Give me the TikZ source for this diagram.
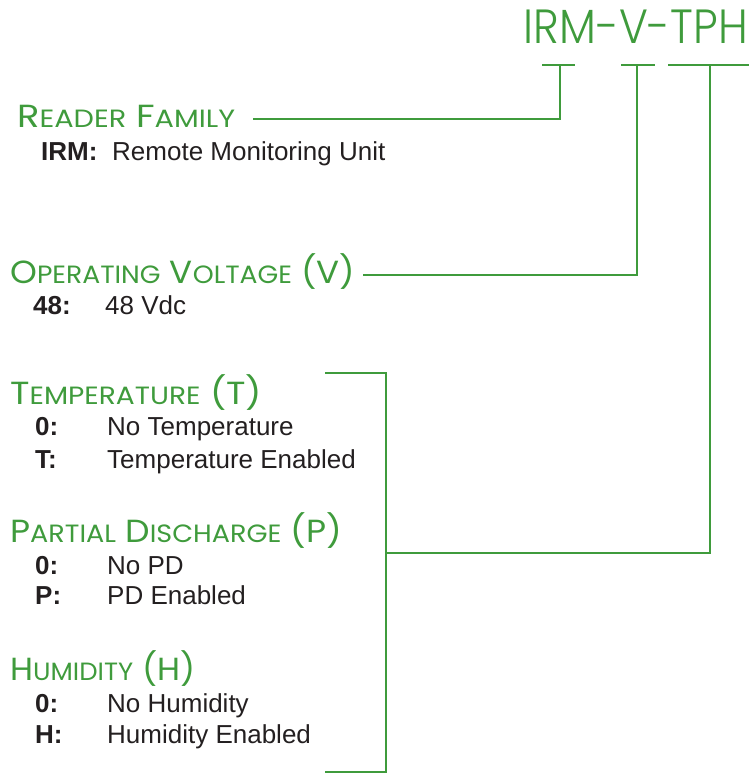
\documentclass[tikz,border=0pt]{standalone}
\usepackage{fontspec}
\usepackage{graphicx}
\setmainfont{Liberation Sans}
\IfFontExistsTF{Poppins Light}{\newfontfamily\goticafina{Poppins Light}}{\newfontfamily\goticafina{Poppins}}
\newfontfamily\gotica{Poppins}
\usetikzlibrary{positioning}
\definecolor{verde}{HTML}{3F9B3C}
\definecolor{tinta}{HTML}{231F20}
\tikzset{
  titulo/.style={anchor=base east,inner sep=0pt,text=verde,font=\goticafina\fontsize{48}{48}\selectfont},
  encabezado/.style={anchor=base west,inner sep=0pt,text=verde,font=\gotica\fontsize{32}{32}\selectfont},
  clave/.style={anchor=base west,inner sep=0pt,text=tinta,font=\fontsize{26}{26}\selectfont\bfseries},
  texto/.style={anchor=base west,inner sep=0pt,text=tinta,font=\fontsize{26}{26}\selectfont},
  linea/.style={draw=verde,line width=2pt},
}
\newcommand{\versal}[2]{#1{\fontsize{25}{25}\selectfont#2}}
\newcommand{\ancho}[2]{\resizebox{#1}{\height}{#2}}
\begin{document}
\begin{tikzpicture}[x=1pt,y=-1pt]
  \useasboundingbox (0,0) rectangle (751,773);
  \node[titulo] (cod) at (748,44) {\ancho{224pt}{IRM-V-TPH}};
  \newcommand{\opcion}[4]{% #1 nombre, #2 y, #3 clave, #4 texto
    \node[clave] (#1k) at (35,#2) {#3};
    \node[texto] (#1t) at (107,#2) {#4};}
  % familia y tension
  \node[encabezado] (fam) at (17,127) {\ancho{218pt}{\versal{R}{EADER} \versal{F}{AMILY}}};
  \node[clave] (famk) at (41,160) {IRM:};
  \node[texto] (famt) at (112,160) {Remote Monitoring Unit};
  \node[encabezado] (vol) at (10,283) {\ancho{345pt}{\versal{O}{PERATING} \versal{V}{OLTAGE} (V)}};
  \node[clave] (volk) at (33,314) {48:};
  \node[texto] (volt) at (105,314) {48 Vdc};
  % sensores
  \node[encabezado] (tem) at (10,404) {\ancho{252pt}{\versal{T}{EMPERATURE} (T)}};
  \opcion{temA}{435}{0:}{No Temperature}
  \opcion{temB}{468}{T:}{Temperature Enabled}
  \node[encabezado] (pd) at (10,542) {\ancho{332pt}{\versal{P}{ARTIAL} \versal{D}{ISCHARGE} (P)}};
  \opcion{pdA}{574}{0:}{No PD}
  \opcion{pdB}{604}{P:}{PD Enabled}
  \node[encabezado] (hum) at (10,680) {\ancho{185pt}{\versal{H}{UMIDITY} (H)}};
  \opcion{humA}{712}{0:}{No Humidity}
  \opcion{humB}{743}{H:}{Humidity Enabled}
  % barras bajo el codigo
  \coordinate (bIRM) at (560,65);
  \coordinate (bV) at (637,65);
  \coordinate (bTPH) at (710,65);
  \foreach \a/\b in {542/575,621/655,668/749}
    \draw[linea] (\a,65) -- (\b,65);
  % lineas
  \coordinate (famL) at (253,119);
  \coordinate (volL) at (363,275);
  \coordinate (llaveA) at (325,373);
  \coordinate (llaveB) at (325,772);
  \coordinate (llaveC) at (386,553);
  \draw[linea] (famL) -| (bIRM);
  \draw[linea] (volL) -| (bV);
  \draw[linea] (llaveA) -| (llaveC) |- (llaveB);
  \draw[linea] (llaveC) -| (bTPH);
\end{tikzpicture}
\end{document}
